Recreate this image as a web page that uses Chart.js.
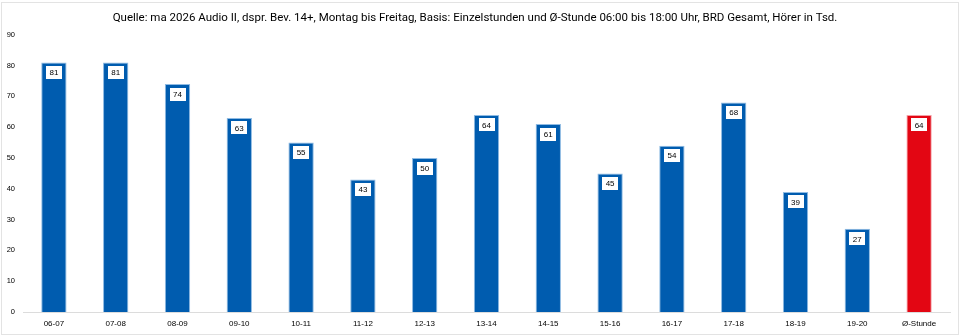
<!DOCTYPE html>
<html><head><meta charset="utf-8">
<script src="https://cdn.jsdelivr.net/npm/chart.js@4"></script>
<style>
html,body{margin:0;padding:0;background:#fff;}
#wrap{position:absolute;left:0;top:0;width:960px;height:336px;}
#frame{position:absolute;left:1px;top:2px;width:956px;height:331px;border:1px solid #e3e3e3;pointer-events:none;}
</style></head>
<body>
<div id="wrap"><canvas id="c" width="960" height="336"></canvas><div id="frame"></div></div>
<script>
const titleText = "Quelle: ma 2026 Audio II, dspr. Bev. 14+, Montag bis Freitag, Basis: Einzelstunden und Ø-Stunde 06:00 bis 18:00 Uhr, BRD Gesamt, Hörer in Tsd.";
const categories = ["06-07","07-08","08-09","09-10","10-11","11-12","12-13","13-14","14-15","15-16","16-17","17-18","18-19","19-20","Ø-Stunde"];
const values = [81,81,74,63,55,43,50,64,61,45,54,68,39,27,64];
const yTicks = [0,10,20,30,40,50,60,70,80,90];

const blue = "#005CAF", red = "#E30613";
const fills = categories.map((c,i)=> i===categories.length-1 ? red : blue);
const borders = categories.map((c,i)=> i===categories.length-1 ? "#f4a0a5" : "#8fbbe3");

const labelPlugin = {
  id:'boxLabels',
  afterDatasetsDraw(chart){
    const ctx = chart.ctx;
    const meta = chart.getDatasetMeta(0);
    ctx.save();
    ctx.font = "8px 'Liberation Sans', Arial, sans-serif";
    ctx.textAlign = 'center';
    ctx.textBaseline = 'middle';
    meta.data.forEach((bar,i)=>{
      const txt = String(values[i]);
      const w = 16, h = 13;
      const cx = bar.x, cy = bar.y + 10;
      ctx.fillStyle = '#fff';
      ctx.fillRect(Math.round(cx - w/2), Math.round(cy - h/2), w, h);
      ctx.fillStyle = '#000';
      ctx.fillText(txt, cx, cy + 0.5);
    });
    ctx.restore();
  }
};

new Chart(document.getElementById('c'), {
  type:'bar',
  data:{labels:categories, datasets:[{data:values, backgroundColor:fills, borderColor:borders, borderWidth:1, barPercentage:0.82, categoryPercentage:0.5}]},
  options:{
    responsive:false, animation:false, devicePixelRatio:1,
    layout:{padding:{left:0,right:10,top:0,bottom:0}},
    plugins:{
      legend:{display:false}, tooltip:{enabled:false},
      title:{display:true, text:titleText, color:'#000', font:{family:"Roboto, sans-serif", size:11.5, weight:'normal'}, padding:{top:11,bottom:10}}
    },
    scales:{
      x:{
        grid:{display:false, drawTicks:false},
        border:{display:true, color:'#dcdcdc', width:1},
        ticks:{color:'#000', font:{family:"'Liberation Sans', Arial, sans-serif", size:8}, padding:7, maxRotation:0, autoSkip:false},
        afterFit(s){ s.height = 24; }
      },
      y:{
        min:0, max:90,
        grid:{display:false, drawTicks:false},
        border:{display:false},
        afterBuildTicks(s){ s.ticks = yTicks.map(v=>({value:v})); },
        ticks:{color:'#000', font:{family:"'Liberation Sans', Arial, sans-serif", size:7.5}, padding:8},
        afterFit(s){ s.width = 23; }
      }
    }
  },
  plugins:[labelPlugin]
});
</script>
</body></html>
